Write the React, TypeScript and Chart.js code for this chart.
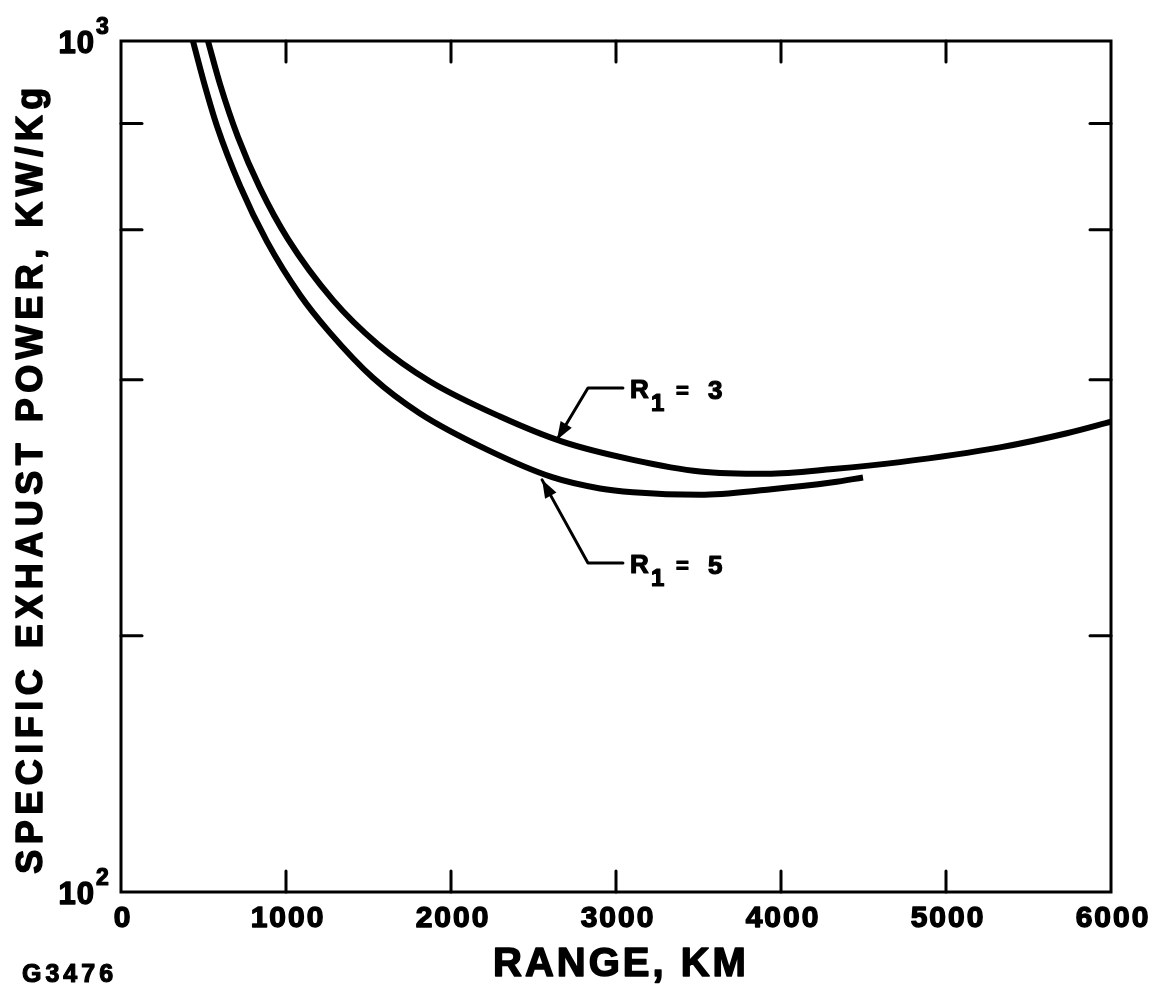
import { useEffect, useRef } from 'react';
import { Chart, registerables } from 'chart.js';

Chart.register(...registerables);

// ---- Data ----
const rangeR3 = [527, 600, 709, 842, 1012, 1285, 1558, 1873, 2297, 2679, 3103, 3509, 3915, 4315, 4721, 5327, 5733, 6000];
const powerR3 = [1000, 890, 771, 672, 585, 496, 440, 398, 362, 338, 322, 312, 310, 314, 320, 333, 346, 357];

const rangeR5 = [436, 509, 582, 721, 885, 1085, 1267, 1527, 1812, 2218, 2618, 2903, 3103, 3509, 3915, 4315, 4497];
const powerR5 = [1000, 885, 794, 676, 581, 503, 454, 402, 365, 331, 307, 298, 295, 293, 297, 303, 307];

const xTickValues = [0, 1000, 2000, 3000, 4000, 5000, 6000];
const yMinorTicks = [200, 400, 600, 800];
const yDecadeTicks = [100, 1000];
const yDecadeExponents = ['2', '3'];

const xTitle = 'RANGE, KM';
const yTitle = 'SPECIFIC EXHAUST POWER, KW/Kg';
const figureId = 'G3476';

// Leader annotations (data coordinates): arrow tip, elbow, end of horizontal run
const annoValues = ['3', '5'];
const annoTips = [[2642, 340], [2552, 305]];
const annoElbows = [[2830, 391], [2830, 243.6]];
const annoEnds = [[3042, 391], [3042, 243.6]];

const FONT = '"Liberation Sans", Arial, sans-serif';

const decorPlugin = {
  id: 'decor',
  afterDatasetsDraw(chart: any) {
    const { ctx, chartArea: a, scales } = chart;
    const x = scales.x;
    const y = scales.y;
    ctx.save();
    ctx.strokeStyle = '#000';
    ctx.fillStyle = '#000';
    ctx.lineCap = 'round';

    const line = (x1: number, y1: number, x2: number, y2: number) => {
      ctx.beginPath();
      ctx.moveTo(x1, y1);
      ctx.lineTo(x2, y2);
      ctx.stroke();
    };
    const heavyText = (t: string, px: number, py: number, w = 1.4) => {
      ctx.fillText(t, px, py);
      const lw = ctx.lineWidth;
      ctx.lineWidth = w;
      ctx.lineJoin = 'round';
      ctx.strokeText(t, px, py);
      ctx.lineWidth = lw;
    };

    // frame
    ctx.lineWidth = 3;
    ctx.lineJoin = 'miter';
    ctx.strokeRect(a.left, a.top, a.right - a.left, a.bottom - a.top);

    // inward ticks
    const tl = 21;
    ctx.lineWidth = 3;
    xTickValues.forEach((v) => {
      if (v === xTickValues[0] || v === xTickValues[xTickValues.length - 1]) return;
      const px = x.getPixelForValue(v);
      line(px, a.bottom, px, a.bottom - tl);
      line(px, a.top, px, a.top + tl);
    });
    yMinorTicks.forEach((v) => {
      const py = y.getPixelForValue(v);
      line(a.left, py, a.left + tl, py);
      line(a.right, py, a.right - tl, py);
    });

    // x tick labels
    ctx.font = `bold 30px ${FONT}`;
    (ctx as any).letterSpacing = '2px';
    ctx.textAlign = 'center';
    ctx.textBaseline = 'middle';
    xTickValues.forEach((v) => {
      heavyText(String(v), x.getPixelForValue(v) + 2, a.bottom + 27);
    });

    // y decade labels 10^n
    (ctx as any).letterSpacing = '1px';
    yDecadeTicks.forEach((v, i) => {
      const py = y.getPixelForValue(v);
      ctx.font = `bold 31px ${FONT}`;
      ctx.textAlign = 'right';
      ctx.textBaseline = 'middle';
      heavyText('10', 95, py + 3);
      ctx.font = `bold 23px ${FONT}`;
      ctx.textAlign = 'left';
      heavyText(yDecadeExponents[i], 96, py - 13, 1.2);
    });

    // x title
    ctx.font = `bold 40px ${FONT}`;
    (ctx as any).letterSpacing = '3px';
    ctx.textAlign = 'center';
    ctx.textBaseline = 'middle';
    heavyText(xTitle, (a.left + a.right) / 2 + 5, 965, 1.5);

    // figure id
    ctx.font = `bold 25px ${FONT}`;
    (ctx as any).letterSpacing = '4px';
    ctx.textAlign = 'left';
    heavyText(figureId, 22, 975, 1.2);

    // y title (rotated)
    ctx.save();
    ctx.translate(32, 478);
    ctx.rotate(-Math.PI / 2);
    ctx.font = `bold 36px ${FONT}`;
    (ctx as any).letterSpacing = '5.5px';
    ctx.textAlign = 'center';
    ctx.textBaseline = 'middle';
    heavyText(yTitle, 0, 0, 1.5);
    ctx.restore();

    // annotations
    (ctx as any).letterSpacing = '0px';
    annoValues.forEach((val, i) => {
      const tx = x.getPixelForValue(annoTips[i][0]);
      const ty = y.getPixelForValue(annoTips[i][1]);
      const ex = x.getPixelForValue(annoElbows[i][0]);
      const ey = y.getPixelForValue(annoElbows[i][1]);
      const hx = x.getPixelForValue(annoEnds[i][0]);
      const hy = y.getPixelForValue(annoEnds[i][1]);
      ctx.lineWidth = 3;
      ctx.lineJoin = 'round';
      ctx.beginPath();
      ctx.moveTo(hx, hy);
      ctx.lineTo(ex, ey);
      ctx.lineTo(tx, ty);
      ctx.stroke();
      // arrow head
      const ang = Math.atan2(ty - ey, tx - ex);
      const L = 18;
      const W = 6.5;
      const bx = tx - L * Math.cos(ang);
      const by = ty - L * Math.sin(ang);
      ctx.beginPath();
      ctx.moveTo(tx, ty);
      ctx.lineTo(bx + W * Math.sin(ang), by - W * Math.cos(ang));
      ctx.lineTo(bx - W * Math.sin(ang), by + W * Math.cos(ang));
      ctx.closePath();
      ctx.fill();
      // label R1 = n
      const lx = hx + 7;
      ctx.textAlign = 'left';
      ctx.textBaseline = 'alphabetic';
      ctx.font = `bold 26px ${FONT}`;
      heavyText('R', lx, hy + 10, 1.2);
      ctx.font = `bold 24px ${FONT}`;
      heavyText('1', lx + 21, hy + 23, 1.2);
      ctx.font = `bold 22px ${FONT}`;
      heavyText('=', lx + 46, hy + 10, 1.2);
      ctx.font = `bold 26px ${FONT}`;
      heavyText(val, lx + 78, hy + 11, 1.2);
    });

    ctx.restore();
  },
};

export default function App() {
  const ref = useRef<HTMLCanvasElement | null>(null);

  useEffect(() => {
    if (!ref.current) return;
    const toPts = (xs: number[], ys: number[]) => xs.map((v, i) => ({ x: v, y: ys[i] }));
    const chart = new Chart(ref.current, {
      type: 'line',
      data: {
        datasets: [
          {
            label: 'R1 = 3',
            data: toPts(rangeR3, powerR3),
            borderColor: '#000',
            borderWidth: 6,
            pointRadius: 0,
            fill: false,
            cubicInterpolationMode: 'monotone',
            clip: 0,
          } as any,
          {
            label: 'R1 = 5',
            data: toPts(rangeR5, powerR5),
            borderColor: '#000',
            borderWidth: 6,
            pointRadius: 0,
            fill: false,
            cubicInterpolationMode: 'monotone',
            clip: 0,
          } as any,
        ],
      },
      options: {
        animation: false,
        responsive: false,
        maintainAspectRatio: false,
        layout: { padding: { left: 121, top: 41, right: 63, bottom: 103 } },
        plugins: { legend: { display: false }, tooltip: { enabled: false }, title: { display: false } },
        scales: {
          x: { type: 'linear', min: 0, max: 6000, display: false },
          y: { type: 'logarithmic', min: 100, max: 1000, display: false },
        },
        events: [],
      },
      plugins: [decorPlugin],
    });
    return () => chart.destroy();
  }, []);

  return (
    <div style={{ position: 'absolute', left: 0, top: 0, width: 1174, height: 995, background: '#fff' }}>
      <canvas ref={ref} width={1174} height={995} style={{ display: 'block', width: 1174, height: 995 }} />
    </div>
  );
}
